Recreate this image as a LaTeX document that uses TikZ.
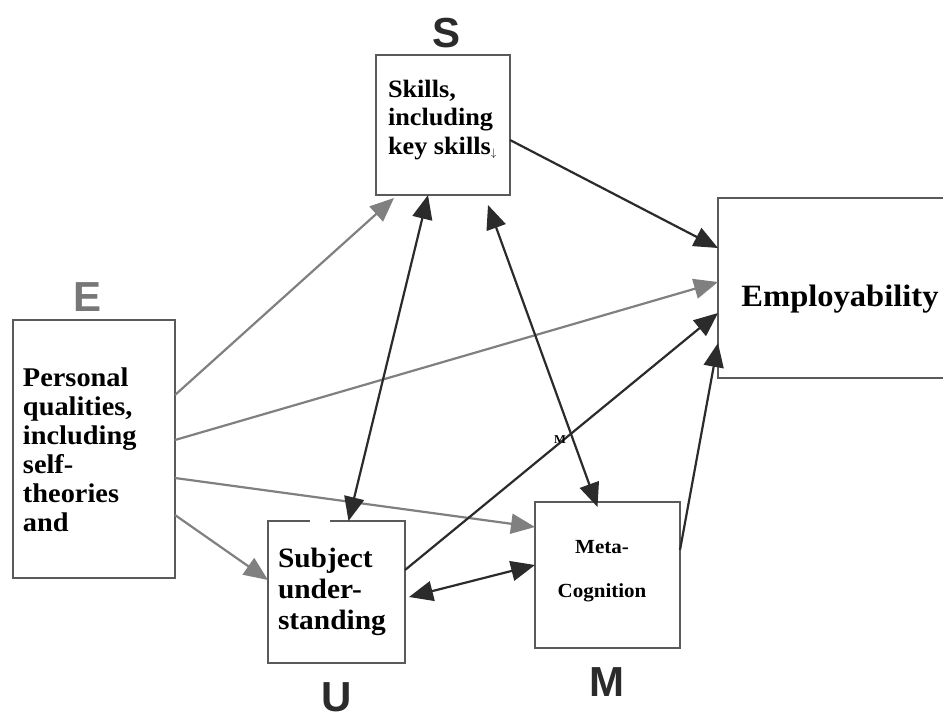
\documentclass[tikz,border=0pt]{standalone}
\usepackage{fontspec}
\setmainfont{Liberation Serif}
\newfontfamily\boxfont[FakeStretch=1.05]{Liberation Serif}
\newfontfamily\labfont{Liberation Sans}
\usetikzlibrary{arrows.meta,calc}
\definecolor{darkc}{HTML}{2B2B2B}
\definecolor{grayc}{HTML}{808080}
\definecolor{borderc}{HTML}{5A5A5A}
\definecolor{labgray}{HTML}{777777}
\tikzset{
  boxline/.style={draw=borderc, line width=2.6pt},
  area/.style={inner sep=0pt, outer sep=0pt},
  txt/.style={inner sep=0pt, outer sep=0pt, align=left, text=black},
  lab/.style={inner sep=0pt, font=\labfont\bfseries\fontsize{42}{42}\selectfont},
  tipd/.tip={Triangle[length=24pt,width=20pt]},
  darkarrow/.style={draw=darkc, line width=2.2pt, -tipd},
  darkboth/.style={draw=darkc, line width=2.2pt, tipd-tipd},
  grayarrow/.style={draw=grayc, line width=2.2pt, -{Triangle[length=24pt,width=20pt,color=grayc]}},
}
\begin{document}
\begin{tikzpicture}[x=1pt,y=-1pt]
\useasboundingbox[fill=white] (0,0) rectangle (943,720);

% boxes
\node[area, minimum width=134pt, minimum height=140pt, boxline] (S) at (443,125) {};
\node[area, minimum width=162pt, minimum height=258pt, boxline] (E) at (94,449) {};
\node[area, minimum width=225pt, minimum height=180pt] (Emp) at (830.5,288) {};
\node[area, minimum width=137pt, minimum height=142pt] (U) at (336.5,592) {};
\node[area, minimum width=145pt, minimum height=146pt, boxline] (M) at (607.5,575) {};

\draw[boxline] (Emp.north east) -- (Emp.north west) -- (Emp.south west) -- (Emp.south east);
\draw[boxline] ([xshift=-26.5pt]U.north) -- (U.north west) -- (U.south west) -- (U.south east) -- (U.north east) -- ([xshift=-6.5pt]U.north);

% texts
\node[txt, anchor=north west, font=\boxfont\bfseries\fontsize{25}{28.5}\selectfont] (St) at (388,80)
  {Skills,\\including\\key skills{\fontsize{16}{16}\selectfont$_{\downarrow}$}};
\node[txt, anchor=north west, font=\boxfont\bfseries\fontsize{27}{29}\selectfont] (Et) at (23,368)
  {Personal\\qualities,\\including\\self-\\theories\\and};
\node[txt, anchor=north west, font=\boxfont\bfseries\fontsize{28}{31}\selectfont] (Ut) at (278,548)
  {Subject\\under-\\standing};
\node[txt, anchor=north, align=center, font=\boxfont\bfseries\fontsize{20}{44}\selectfont] (Mt) at (602,540)
  {Meta-\\Cognition};
\node[txt, font=\boxfont\bfseries\fontsize{31}{31}\selectfont] (Empt) at (840,299) {Employability};

% letter labels
\node[lab, text=darkc] (Sl) at (447,33) {S};
\node[lab, text=labgray] (El) at (88,297) {E};
\node[lab, text=darkc] (Ul) at (337,697) {U};
\node[lab, text=darkc] (Ml) at (607,682) {M};

% gray arrows from E
\draw[grayarrow] ([yshift=54pt]E.east) -- ([xshift=-49pt,yshift=-3pt]S.south);
\draw[grayarrow] ([yshift=9pt]E.east) -- ([yshift=6pt]Emp.west);
\draw[grayarrow] ([yshift=-29pt]E.east) -- ([yshift=48pt]M.west);
\draw[grayarrow] ([yshift=-66pt]E.east) -- ([yshift=12pt]U.west);

% dark arrows
\draw[darkarrow] ([yshift=-15pt]S.east) -- ([yshift=40pt]Emp.west);
\draw[darkboth] ([xshift=-15pt]S.south) -- ([xshift=12pt]U.north);
\draw[darkboth] ([xshift=45pt,yshift=-10pt]S.south) -- ([xshift=-10pt,yshift=-5pt]M.north);
\draw[darkarrow] ([yshift=22pt]U.east) -- ([yshift=-25pt]Emp.west);
\draw[darkboth] ([xshift=4pt,yshift=-5pt]U.east) -- ([yshift=10pt]M.west);
\draw[darkarrow] ([yshift=25pt]M.east) -- ([yshift=-55pt]Emp.west);

\node[inner sep=0pt, font=\boxfont\bfseries\fontsize{12}{12}\selectfont] (Msmall) at (560,440) {M};
\end{tikzpicture}
\end{document}
